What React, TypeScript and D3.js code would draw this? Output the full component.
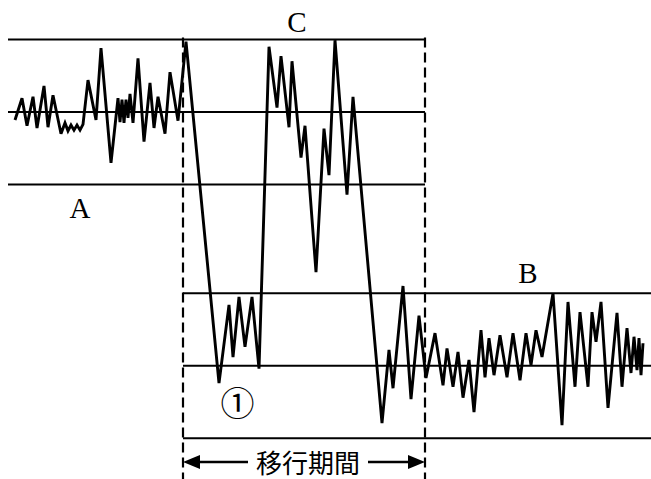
import React from "react";
import * as d3 from "d3";

// time (t) and measured value (v) of the process trace
const times: number[] = [
  1.4, 2.8, 3.8, 5.0, 5.8, 7.2, 8.0, 9.0, 10.6, 11.4, 12.0, 12.6, 13.2, 13.8, 14.4, 15.0,
  16.0, 17.6, 18.6, 20.6, 22.0, 22.4, 22.8, 23.2, 23.6, 24.0, 24.4, 25.0, 26.0, 27.2, 28.4,
  29.2, 30.0, 31.4, 32.4, 34.0, 35.6, 42.2, 44.2, 45.0, 46.2, 47.4, 48.8, 50.2, 52.2, 53.8,
  54.6, 56.2, 56.8, 58.6, 59.4, 61.6, 63.2, 64.2, 65.4, 67.8, 69.0, 74.8, 76.2, 77.0, 79.0,
  80.6, 82.2, 83.6, 85.4, 87.0, 87.8, 89.0, 90.0, 91.0, 92.2, 93.2, 94.6, 95.4, 96.2, 97.2,
  98.4, 99.8, 101.0, 102.4, 103.6, 104.6, 105.6, 106.8, 109.0, 110.8, 112.0, 113.4, 114.4,
  116.0, 116.8, 117.6, 118.6, 120.0, 121.8, 122.8, 123.8, 124.6, 125.2, 125.8, 126.2, 126.6, 127.0,
];
const values: number[] = [
  48.9, 51.9, 48.1, 52.1, 47.8, 53.6, 47.9, 52.3, 47.0, 48.5, 47.4, 48.2, 47.5, 48.2, 47.5, 48.3,
  54.4, 48.9, 58.8, 43.0, 51.9, 48.6, 51.7, 48.5, 51.7, 49.2, 52.5, 48.5, 57.4, 45.9, 54.0,
  47.8, 52.1, 47.0, 55.5, 48.8, 59.7, 12.6, 23.4, 16.2, 24.5, 17.6, 24.5, 14.6, 59.0, 50.6,
  57.7, 47.9, 57.0, 43.7, 48.1, 27.9, 47.7, 41.3, 59.9, 38.6, 52.1, 7.1, 17.2, 11.9, 26.0,
  10.4, 21.9, 13.3, 19.5, 12.3, 17.4, 12.1, 16.9, 10.6, 15.8, 8.6, 19.9, 13.4, 18.8, 13.7,
  19.2, 13.4, 19.5, 13.0, 19.5, 15.1, 19.9, 16.2, 25.0, 6.8, 23.8, 12.1, 22.4,
  12.1, 22.4, 18.3, 23.8, 9.2, 22.3, 12.1, 20.2, 14.0, 19.0, 14.4, 18.8, 13.7, 18.1,
];

// control levels (upper, center, lower) of state A and state B
const levelsA: number[] = [60, 50, 40];
const levelsB: number[] = [25, 15, 5];
const rangeA: [number, number] = [0, 83.4];
const rangeB: [number, number] = [35, 128.6];
const transition: [number, number] = [35, 83.4];

const labelA = "A";
const labelB = "B";
const labelC = "C";
const labelPeriod = "移行期間";
const labelMark = "①";

const W = 651;
const H = 479;

export default function App() {
  const x = d3.scaleLinear().domain([0, 128]).range([8, 648]);
  const y = d3.scaleLinear().domain([0, 60]).range([474.5, 39.5]);

  const pts: [number, number][] = times.map((t, i) => [t, values[i]]);
  const line = d3
    .line<[number, number]>()
    .x((d) => x(d[0]))
    .y((d) => y(d[1]));

  const arrowY = 462;
  const xs = x(transition[0]);
  const xe = x(transition[1]);
  const head = 17;
  const hw = 7;

  return (
    <svg
      width={W}
      height={H}
      style={{ position: "absolute", left: 0, top: 0, background: "#fff" }}
    >
      <rect x={0} y={0} width={W} height={H} fill="#fff" />
      {levelsA.map((v, i) => (
        <line
          key={"a" + i}
          x1={x(rangeA[0])}
          x2={x(rangeA[1])}
          y1={y(v)}
          y2={y(v)}
          stroke="#000"
          strokeWidth={2.2}
        />
      ))}
      {levelsB.map((v, i) => (
        <line
          key={"b" + i}
          x1={x(rangeB[0])}
          x2={x(rangeB[1])}
          y1={y(v)}
          y2={y(v)}
          stroke="#000"
          strokeWidth={2.2}
        />
      ))}
      {transition.map((t, i) => (
        <line
          key={"d" + i}
          x1={x(t)}
          x2={x(t)}
          y1={y(60) - 2}
          y2={H}
          stroke="#000"
          strokeWidth={2.2}
          strokeDasharray="10,5"
        />
      ))}
      <path
        d={line(pts) || ""}
        fill="none"
        stroke="#000"
        strokeWidth={2.9}
        strokeLinejoin="miter"
        strokeMiterlimit={3}
      />
      {/* period arrow */}
      <line x1={xs + head} x2={248} y1={arrowY} y2={arrowY} stroke="#000" strokeWidth={2.5} />
      <line x1={368} x2={xe - head} y1={arrowY} y2={arrowY} stroke="#000" strokeWidth={2.5} />
      <path
        d={`M${xs},${arrowY} L${xs + head},${arrowY - hw} L${xs + head},${arrowY + hw} Z`}
        fill="#000"
      />
      <path
        d={`M${xe},${arrowY} L${xe - head},${arrowY - hw} L${xe - head},${arrowY + hw} Z`}
        fill="#000"
      />
      <text
        x={308}
        y={473}
        textAnchor="middle"
        fontFamily="'Noto Sans CJK JP', sans-serif"
        fontSize={26}
        fill="#000"
      >
        {labelPeriod}
      </text>
      <text x={80} y={218} textAnchor="middle" fontFamily="'Liberation Serif', serif" fontSize={29} fill="#000">
        {labelA}
      </text>
      <text x={297} y={32} textAnchor="middle" fontFamily="'Liberation Serif', serif" fontSize={29} fill="#000">
        {labelC}
      </text>
      <text x={528} y={283} textAnchor="middle" fontFamily="'Liberation Serif', serif" fontSize={29} fill="#000">
        {labelB}
      </text>
      <text
        x={237.5}
        y={401.5}
        textAnchor="middle"
        dominantBaseline="central"
        fontFamily="'Noto Sans CJK JP', sans-serif"
        fontSize={34}
        fill="#000"
      >
        {labelMark}
      </text>
    </svg>
  );
}
